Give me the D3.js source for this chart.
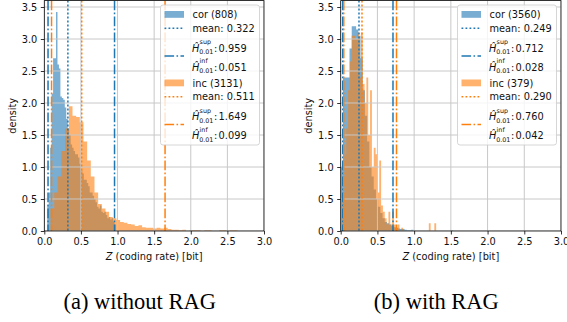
<!DOCTYPE html>
<html>
<head>
<meta charset="utf-8">
<script src="https://cdn.jsdelivr.net/npm/d3@7"></script>
<style>
  body { margin: 0; background: #fff; }
  svg text { font-family: "DejaVu Sans", sans-serif; font-size: 9.8px; fill: #111; }
</style>
</head>
<body>
<svg id="fig" width="567" height="322"></svg>
<script>
const xTicks = [0, 0.5, 1.0, 1.5, 2.0, 2.5, 3.0];
const yTicks = [0, 0.5, 1.0, 1.5, 2.0, 2.5, 3.0, 3.5];
const yMax = 3.6;
const captions = ['(a) without RAG', '(b) with RAG'];

// (a) without RAG -- stats are [mean, sup, inf]
const corCountA = 808;
const incCountA = 3131;
const corStatsA = [0.322, 0.959, 0.051];
const incStatsA = [0.511, 1.649, 0.099];
const corStartA = 0.04, corWidthA = 0.02;
const corDensityA = [
  0.4, 0.6, 1.3, 2.15, 2.7, 2.7, 3.42, 2.6, 2.54, 2.1,
  2.08, 2.05, 1.93, 1.75, 1.6, 1.5, 1.35, 1.3, 1.25, 1.2,
  1.2, 1.15, 1.05, 0.95, 0.9, 0.8, 0.8, 0.75, 0.7, 0.6,
  0.6, 0.55, 0.5, 0.45, 0.38, 0.35, 0.4, 0.3, 0.28, 0.3,
  0.25, 0.2, 0.22, 0.18, 0.2, 0.15, 0.1
];
const incStartA = 0.085, incWidthA = 0.05;
const incDensityA = [
  0.35, 0.6, 0.85, 1.25, 1.6, 1.95, 1.8, 1.78, 1.7, 1.4,
  1.1, 0.85, 0.6, 0.42, 0.35, 0.3, 0.22, 0.2, 0.17, 0.14,
  0.13, 0.11, 0.1, 0.08, 0.09, 0.06, 0.05, 0.05, 0.04, 0.05,
  0.04, 0.05, 0.03, 0.02, 0.02, 0.01, 0.02, 0, 0.01, 0.01,
  0.01, 0, 0.01, 0.01, 0, 0, 0.01, 0.01, 0, 0.01, 0.01
];

// (b) with RAG
const corCountB = 3560;
const incCountB = 379;
const corStatsB = [0.249, 0.712, 0.028];
const incStatsB = [0.290, 0.760, 0.042];
const corStartB = 0, corWidthB = 0.03;
const corDensityB = [
  1.0, 2.4, 2.4, 2.4, 2.85, 3.2, 3.2, 3.15, 3.05, 2.7,
  2.2, 1.8, 1.4, 1.0, 0.85, 0.65, 0.5, 0.38, 0.28, 0.2,
  0.14, 0.12, 0.1, 0.08, 0.06, 0.05, 0.04, 0.03, 0.03, 0.02,
  0.01, 0.01, 0.02, 0, 0, 0, 0, 0, 0, 0,
  0, 0, 0, 0, 0, 0, 0, 0, 0, 0, 0.01
];
const incStartB = 0.025, incWidthB = 0.025;
const incDensityB = [
  0.5, 1.2, 1.6, 2.2, 2.65, 3.05, 3.05, 3.0, 3.1, 2.4,
  3.1, 2.3, 2.0, 2.4, 1.5, 2.2, 1.0, 1.3, 1.2, 0.6,
  1.1, 0.4, 0.3, 0.2, 0.1, 0.3, 0.1, 0.3, 0.1, 0.05,
  0.1, 0, 0.05, 0, 0, 0, 0, 0, 0, 0,
  0, 0, 0, 0, 0, 0, 0, 0.12, 0, 0, 0.12
];

const blue = '#1f77b4';
const orange = '#ff7f0e';
const fmt = d3.format('.3f');
const dotted = '1.8,2.2';
const dashdot = '9.6,2.4,1.6,2.4';

const svg = d3.select('#fig');

function drawPanel(cfg) {
  const top = 0.6, bottom = 231;
  const x = d3.scaleLinear().domain([0, 3]).range([cfg.left, cfg.right]);
  const y = d3.scaleLinear().domain([0, yMax]).range([bottom, top]);

  svg.append('clipPath').attr('id', 'clip-' + cfg.id)
    .append('rect')
    .attr('x', cfg.left).attr('y', top)
    .attr('width', cfg.right - cfg.left).attr('height', bottom - top);

  const plot = svg.append('g').attr('clip-path', `url(#clip-${cfg.id})`);

  // histograms as step areas
  cfg.series.forEach((s) => {
    const pts = s.density.map((d, i) => [s.start + i * s.width, d]);
    pts.push([s.start + s.density.length * s.width, 0]);
    const area = d3.area()
      .curve(d3.curveStepAfter)
      .x((p) => x(p[0]))
      .y0(y(0))
      .y1((p) => y(p[1]));
    plot.append('path')
      .attr('d', area(pts))
      .attr('fill', s.color)
      .attr('fill-opacity', 0.6);
  });

  // grid above the bars
  plot.selectAll(null).data(xTicks).enter().append('line')
    .attr('x1', (d) => x(d)).attr('x2', (d) => x(d))
    .attr('y1', top).attr('y2', bottom)
    .attr('stroke', '#c8c8c8').attr('stroke-width', 1);
  plot.selectAll(null).data(yTicks).enter().append('line')
    .attr('x1', cfg.left).attr('x2', cfg.right)
    .attr('y1', (d) => y(d)).attr('y2', (d) => y(d))
    .attr('stroke', '#c8c8c8').attr('stroke-width', 1);

  // mean / sup / inf lines
  cfg.series.forEach((s) => {
    s.stats.forEach((v, k) => {
      plot.append('line')
        .attr('x1', x(v)).attr('x2', x(v))
        .attr('y1', top).attr('y2', bottom)
        .attr('stroke', s.line)
        .attr('stroke-width', 1.5)
        .attr('stroke-dasharray', k === 0 ? dotted : dashdot);
    });
  });

  // axes
  const xAxis = d3.axisBottom(x).tickValues(xTicks).tickFormat(d3.format('.1f'))
    .tickSize(3.5).tickPadding(3.5);
  const yAxis = d3.axisLeft(y).tickValues(yTicks).tickFormat(d3.format('.1f'))
    .tickSize(3.5).tickPadding(3.5);

  const gx = svg.append('g').attr('transform', `translate(0,${bottom})`).call(xAxis);
  const gy = svg.append('g').attr('transform', `translate(${cfg.left},0)`).call(yAxis);
  [gx, gy].forEach((g) => {
    g.select('.domain').remove();
    g.attr('font-family', null).attr('font-size', null);
    g.selectAll('line').attr('stroke', '#000').attr('stroke-width', 0.8);
    g.selectAll('text').attr('fill', '#111');
  });

  // spines
  svg.append('rect')
    .attr('x', cfg.left).attr('y', top)
    .attr('width', cfg.right - cfg.left).attr('height', bottom - top)
    .attr('fill', 'none').attr('stroke', '#000').attr('stroke-width', 0.8);

  // axis labels
  const xl = svg.append('text')
    .attr('x', (cfg.left + cfg.right) / 2).attr('y', 260)
    .attr('text-anchor', 'middle');
  xl.append('tspan').attr('font-style', 'italic').text('Z');
  xl.append('tspan').text(' (coding rate) [bit]');

  svg.append('text')
    .attr('transform', `translate(${cfg.left - 28.6},${(top + bottom) / 2}) rotate(-90)`)
    .attr('text-anchor', 'middle')
    .text('density');

  drawLegend(cfg);

  svg.append('text')
    .attr('x', cfg.captionX).attr('y', 309)
    .attr('text-anchor', 'middle')
    .style('font-family', '"Liberation Serif", "Times New Roman", serif')
    .style('font-size', '22.5px')
    .style('fill', '#000')
    .text(cfg.caption);
}

function hatRow(g, tx, by, tag, val) {
  g.append('text').attr('x', tx).attr('y', by).attr('font-style', 'italic').text('Ĥ');
  g.append('text').attr('x', tx + 7.6).attr('y', by - 7.2).style('font-size', '6.4px').text(tag);
  g.append('text').attr('x', tx + 7.2).attr('y', by + 2.6).style('font-size', '6.4px').text('0.01');
  g.append('text').attr('x', tx + 22).attr('y', by).text(':');
  g.append('text').attr('x', tx + 26.6).attr('y', by).text(fmt(val));
}

function drawLegend(cfg) {
  const w = 99, h = 140;
  const lx = cfg.right - 4.5 - w, ly = 5;
  const g = svg.append('g');
  g.append('rect')
    .attr('x', lx).attr('y', ly).attr('width', w).attr('height', h).attr('rx', 2.5)
    .attr('fill', '#fff').attr('fill-opacity', 0.8)
    .attr('stroke', '#cccccc').attr('stroke-width', 0.8);

  cfg.series.forEach((s, k) => {
    const oy = ly + k * 68.5;
    const hx = lx + 4, hw = 19.5, tx = lx + 32;
    g.append('rect')
      .attr('x', hx).attr('y', oy + 6).attr('width', hw).attr('height', 6.8)
      .attr('fill', s.color).attr('fill-opacity', 0.6);
    g.append('text').attr('x', tx).attr('y', oy + 13).text(`${s.name} (${s.count})`);

    g.append('line')
      .attr('x1', hx).attr('x2', hx + hw).attr('y1', oy + 23.3).attr('y2', oy + 23.3)
      .attr('stroke', s.line).attr('stroke-width', 1.5).attr('stroke-dasharray', dotted);
    g.append('text').attr('x', tx).attr('y', oy + 26.8).text('mean: ' + fmt(s.stats[0]));

    g.append('line')
      .attr('x1', hx).attr('x2', hx + hw).attr('y1', oy + 51).attr('y2', oy + 51)
      .attr('stroke', s.line).attr('stroke-width', 1.5).attr('stroke-dasharray', dashdot);
    hatRow(g, tx - 0.5, oy + 46.5, 'sup', s.stats[1]);
    hatRow(g, tx - 0.5, oy + 65.5, 'inf', s.stats[2]);
  });
}

drawPanel({
  id: 'a', left: 44.3, right: 264, captionX: 139.7, caption: captions[0],
  series: [
    { name: 'cor', count: corCountA, stats: corStatsA, start: corStartA, width: corWidthA,
      density: corDensityA, color: blue, line: blue },
    { name: 'inc', count: incCountA, stats: incStatsA, start: incStartA, width: incWidthA,
      density: incDensityA, color: orange, line: orange },
  ],
});

drawPanel({
  id: 'b', left: 340.7, right: 561, captionX: 436.3, caption: captions[1],
  series: [
    { name: 'cor', count: corCountB, stats: corStatsB, start: corStartB, width: corWidthB,
      density: corDensityB, color: blue, line: blue },
    { name: 'inc', count: incCountB, stats: incStatsB, start: incStartB, width: incWidthB,
      density: incDensityB, color: orange, line: orange },
  ],
});
</script>
</body>
</html>
